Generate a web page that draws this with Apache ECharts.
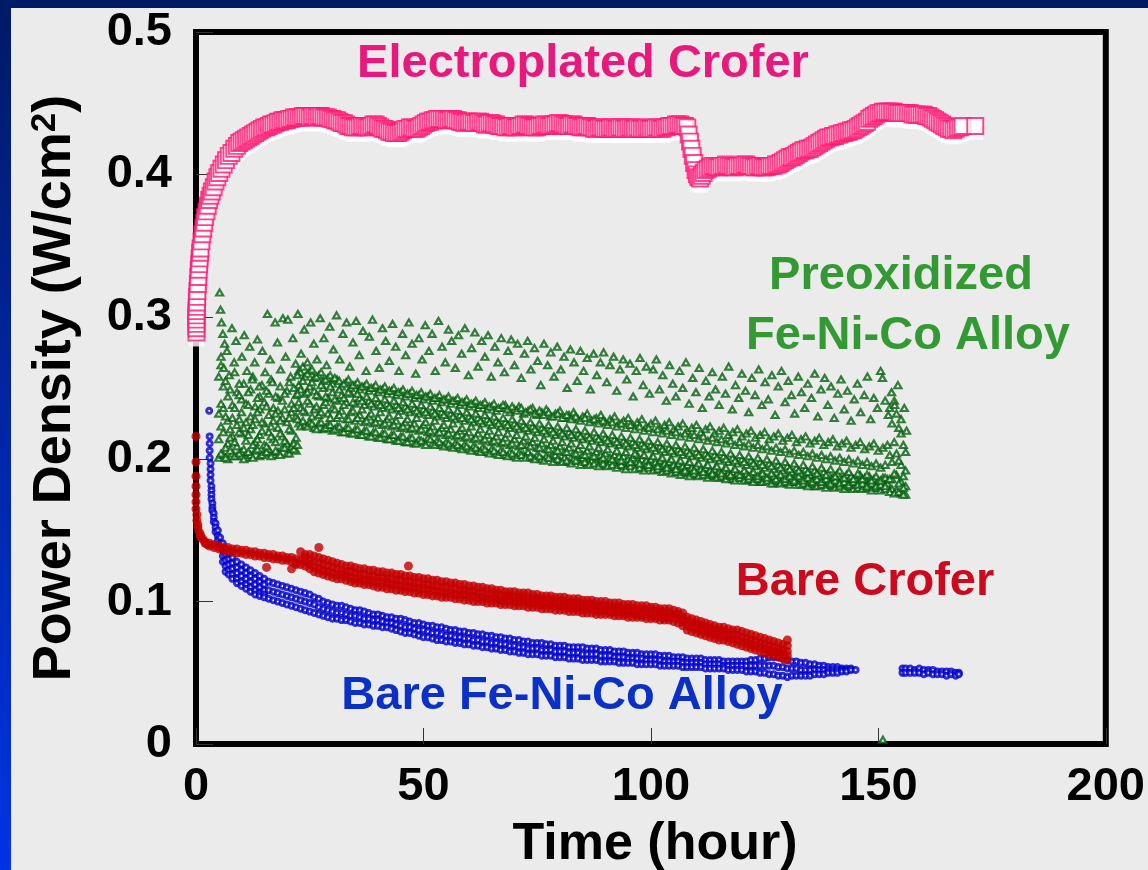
<!DOCTYPE html>
<html>
<head>
<meta charset="utf-8">
<script src="https://cdn.jsdelivr.net/npm/echarts@6/dist/echarts.min.js"></script>
<style>
html,body{margin:0;padding:0;background:#ebebeb;}
#chart{width:1148px;height:870px;}
</style>
</head>
<body>
<div id="chart"></div>
<script>
// ---------- tick labels ----------
const xTicks = [0, 50, 100, 150, 200];
const yTicks = [0, 0.1, 0.2, 0.3, 0.4, 0.5];

// ---------- series labels ----------
const seriesNames = ['Electroplated Crofer', 'Preoxidized Fe-Ni-Co Alloy', 'Bare Crofer', 'Bare Fe-Ni-Co Alloy'];

// ---------- Electroplated Crofer : [hour, W/cm2] ----------
const electroplated = [
[0.1,.289],[0.1,.292],[0.1,.295],[0.1,.298],[0.1,.301],[0.1,.304],[0.15,.307],[0.2,.31],[0.25,.314],[0.3,.318],
[0.4,.323],[0.5,.328],[0.6,.333],[0.7,.337],[0.8,.341],[0.9,.345],[1.0,.348],[1.2,.353],[1.4,.358],[1.6,.362],
[1.8,.366],[2.0,.37],[2.3,.374],[2.6,.378],[2.9,.382],[3.2,.385],[3.5,.388],[3.9,.391],[4.3,.395],[4.7,.398],
[5.1,.401],[5.6,.404],[6.1,.407],[6.6,.41],[7.2,.413],[7.8,.415],[8.4,.418],[9,.42],[9.5,.422],[10,.423],
[10.5,.424],[11,.425],[11.5,.426],[12,.427],[12.5,.428],[13,.429],[13.5,.430],[14,.431],[14.5,.432],[15,.433],
[15.5,.433],[16,.434],[16.5,.435],[17,.435],[17.5,.436],[18,.437],[18.5,.437],[19,.438],[19.5,.438],[20,.438],
[20.5,.439],[21,.439],[21.5,.44],[22,.44],[22.5,.44],[23,.44],[23.5,.441],[24,.441],[24.5,.441],[25,.440],
[25.5,.441],[26,.441],[26.5,.440],[27,.441],[27.5,.441],[28,.440],[28.5,.440],[29,.440],[29.5,.439],[30,.439],
[30.5,.438],[31,.438],[31.5,.437],[32,.436],[32.5,.436],[33,.435],[33.5,.434],[34,.434],[34.5,.433],[35,.433],
[35.5,.433],[36,.434],[36.5,.434],[37,.434],[37.5,.433],[38,.433],[38.5,.434],[39,.435],[39.5,.435],[40,.434],
[40.5,.433],[41,.432],[41.5,.432],[42,.431],[42.5,.430],[43,.430],[43.5,.429],[44,.429],[44.5,.429],[45,.430],
[45.5,.431],[46,.432],[46.5,.432],[47,.433],[47.5,.433],[48,.432],[48.5,.432],[49,.433],[49.5,.434],[50,.435],
[50.5,.436],[51,.437],[51.5,.437],[52,.438],[52.5,.438],[53,.439],[53.5,.439],[54,.439],[54.5,.439],[55,.438],
[55.5,.438],[56,.439],[56.5,.439],[57,.438],[57.5,.438],[58,.437],[58.5,.437],[59,.436],[59.5,.437],[60,.437],
[60.5,.437],[61,.436],[61.5,.436],[62,.437],[62.5,.437],[63,.436],[63.5,.435],[64,.435],[64.5,.436],[65,.436],
[65.5,.435],[66,.435],[66.5,.434],[67,.434],[67.5,.434],[68,.433],[68.5,.433],[69,.434],[69.5,.434],[70,.433],
[70.5,.433],[71,.434],[71.5,.434],[72,.435],[72.5,.435],[73,.434],[73.5,.434],[74,.433],[74.5,.433],[75,.433],
[75.5,.434],[76,.434],[76.5,.435],[77,.435],[77.5,.434],[78,.434],[78.5,.435],[79,.435],[79.5,.436],[80,.436],
[80.5,.435],[81,.435],[81.5,.434],[82,.434],[82.5,.435],[83,.435],[83.5,.434],[84,.434],[84.5,.433],[85,.433],
[85.5,.434],[86,.434],[86.5,.433],[87,.433],[87.5,.432],[88,.432],[88.5,.433],[89,.433],[89.5,.432],[90,.432],
[90.5,.432],[91,.433],[91.5,.433],[92,.432],[92.5,.432],[93,.433],[93.5,.433],[94,.432],[94.5,.432],[95,.433],
[95.5,.433],[96,.432],[96.5,.432],[97,.433],[97.5,.432],[98,.432],[98.5,.432],[99,.433],[99.5,.432],[100,.432],
[100.5,.432],[101,.433],[101.5,.433],[102,.432],[102.5,.432],[103,.433],[103.5,.433],[104,.434],[104.5,.434],[105,.434],
[105.5,.435],[106,.435],[106.5,.435],[107,.434],[107.5,.434],[108,.433],[108.3,.428],[108.6,.423],[108.9,.418],[109.2,.413],
[109.5,.408],[109.8,.403],[110.1,.400],[110.4,.398],[110.8,.397],[111.2,.399],[111.6,.401],[112,.403],[112.5,.404],[113,.405],
[113.5,.406],[114,.406],[114.5,.405],[115,.405],[115.5,.406],[116,.406],[116.5,.407],[117,.406],[117.5,.406],[118,.405],
[118.5,.405],[119,.406],[119.5,.406],[120,.406],[120.5,.407],[121,.407],[121.5,.406],[122,.406],[122.5,.405],[123,.405],
[123.5,.406],[124,.406],[124.5,.405],[125,.405],[125.5,.405],[126,.406],[126.5,.406],[127,.406],[127.5,.407],[128,.407],
[128.5,.408],[129,.409],[129.5,.410],[130,.411],[130.5,.412],[131,.412],[131.5,.413],[132,.414],[132.5,.415],[133,.416],
[133.5,.417],[134,.417],[134.5,.418],[135,.418],[135.5,.419],[136,.420],[136.5,.421],[137,.422],[137.5,.423],[138,.424],
[138.5,.425],[139,.426],[139.5,.426],[140,.427],[140.5,.427],[141,.428],[141.5,.428],[142,.429],[142.5,.429],[143,.430],
[143.5,.430],[144,.431],[144.5,.431],[145,.432],[145.5,.433],[146,.434],[146.5,.435],[147,.436],[147.5,.437],[148,.439],
[148.5,.440],[149,.441],[149.5,.442],[150,.443],[150.5,.443],[151,.444],[151.5,.444],[152,.444],[152.5,.444],[153,.444],
[153.5,.444],[154,.443],[154.5,.443],[155,.443],[155.5,.443],[156,.443],[156.5,.443],[157,.443],[157.5,.442],[158,.442],
[158.5,.442],[159,.442],[159.5,.442],[160,.442],[160.5,.441],[161,.441],[161.5,.440],[162,.439],[162.5,.438],[163,.437],
[163.5,.436],[164,.435],[164.5,.434],[165,.433],[165.5,.432],[166,.432],[166.5,.431],[167,.432],[167.5,.433],[168,.433],
[168.5,.434],[171.3,.434]
];

// ---------- Preoxidized Fe-Ni-Co Alloy : rows [hour, values...] (dense band, whole hours) ----------
const preoxBandA = [
[5,.201,.214,.232,.258],[6,.203,.219,.236,.251],[7,.200,.211,.227,.244],[8,.204,.216,.229,.238],[9,.202,.209,.224,.247],
[10,.205,.218,.233,.242],[11,.201,.213,.226,.239],[12,.203,.221,.230,.249],[13,.206,.212,.228,.237],[14,.202,.217,.235,.244],
[15,.204,.210,.225,.240],[16,.207,.219,.231,.246],[17,.203,.214,.227,.236],[18,.205,.222,.234,.243],[19,.208,.216,.229,.241],
[20,.204,.211,.226,.248],[21,.209,.220,.233,.239],[22,.206,.215,.230,.245],[22.6,.225,.240,.252,.262],[23,.223,.236,.249,.261],
[24,.224,.233,.246,.258],[25,.226,.239,.251,.262],[26,.222,.235,.248,.257],[27,.225,.231,.244,.259],[28,.221,.238,.250,.255],
[29,.224,.232,.243,.257],[30,.220,.236,.247,.253],[31,.223,.229,.241,.256],[32,.219,.234,.245,.251],[33,.222,.228,.240,.254],
[34,.218,.233,.246,.250],[35,.221,.227,.239,.252],[36,.217,.231,.243,.249],[37,.220,.226,.238,.251],[38,.216,.230,.241,.248],
[39,.219,.225,.237,.250],[40,.215,.229,.240,.247],[41,.218,.224,.236,.249],[42,.214,.228,.239,.246],[43,.217,.223,.235,.248],
[44,.213,.227,.238,.245],[45,.216,.222,.234,.247],[46,.212,.226,.237,.244],[47,.215,.221,.233,.246],[48,.211,.225,.236,.243],
[49,.214,.220,.232,.245],[50,.212,.224,.235,.242],[51,.215,.219,.231,.244],[52,.211,.223,.234,.241],[53,.213,.218,.230,.243],
[54,.210,.222,.233,.240],[55,.212,.217,.229,.242],[56,.209,.221,.232,.239],[57,.211,.216,.228,.241],[58,.208,.220,.231,.238],
[59,.210,.215,.227,.240],[60,.207,.219,.230,.237],[61,.209,.214,.226,.239],[62,.206,.218,.229,.236],[63,.208,.213,.225,.238],
[64,.205,.217,.228,.235],[65,.207,.212,.224,.237],[66,.204,.216,.227,.234],[67,.206,.211,.223,.236],[68,.203,.215,.226,.238],
[69,.205,.210,.222,.233],[70,.202,.214,.225,.235],[71,.204,.209,.221,.237],[72,.203,.213,.224,.232],[73,.205,.210,.220,.234],
[74,.201,.212,.223,.236],[75,.203,.208,.219,.231],[76,.200,.211,.222,.233],[77,.202,.207,.218,.235],[78,.201,.210,.221,.230],
[79,.203,.206,.217,.232],[80,.199,.209,.220,.234],[81,.201,.205,.216,.229],[82,.198,.208,.219,.231],[83,.200,.204,.215,.233],
[84,.199,.207,.218,.228],[85,.201,.203,.214,.230],[86,.197,.206,.217,.232],[87,.199,.202,.213,.227],[88,.198,.205,.216,.229],
[89,.200,.203,.212,.231],[90,.196,.204,.215,.226],[91,.198,.201,.211,.228],[92,.197,.203,.214,.230],[93,.199,.202,.210,.225],
[94,.195,.202,.213,.227],[95,.197,.200,.209,.229],[96,.196,.201,.212,.224],[97,.198,.203,.208,.226],[98,.194,.200,.211,.228],
[99,.196,.199,.207,.223],[100,.195,.200,.210,.225],[101,.193,.198,.206,.227],[102,.195,.199,.209,.222],[103,.192,.197,.205,.224],
[104,.194,.198,.208,.226],[105,.191,.196,.204,.221],[106,.193,.197,.207,.223],[107,.190,.195,.203,.225],[108,.192,.196,.206,.220],
[109,.191,.194,.202,.222],[110,.189,.195,.205,.224],[111,.191,.193,.201,.219],[112,.190,.194,.204,.221],[113,.188,.192,.200,.223],
[114,.190,.193,.203,.218],[115,.187,.191,.199,.220],[116,.189,.192,.202,.222],[117,.188,.190,.198,.217],[118,.186,.191,.201,.219],
[119,.188,.190,.197,.221],[120,.187,.189,.200,.216],[121,.185,.190,.196,.218],[122,.187,.189,.199,.220],[123,.186,.188,.195,.215],
[124,.184,.189,.198,.217],[125,.186,.188,.194,.219],[126,.185,.187,.197,.214],[127,.183,.188,.193,.216],[128,.185,.187,.196,.218],
[129,.184,.186,.192,.213],[130,.183,.187,.195,.215],[131,.185,.186,.191,.217],[132,.184,.188,.194,.212],[133,.182,.186,.190,.214],
[134,.184,.187,.193,.216],[135,.183,.185,.189,.211],[136,.181,.186,.192,.213],[137,.183,.184,.188,.215],[138,.182,.185,.191,.210],
[139,.184,.186,.190,.212],[140,.181,.183,.187,.214],[141,.183,.185,.190,.209],[142,.182,.184,.186,.211],[143,.180,.183,.189,.213],
[144,.182,.184,.188,.208],[145,.181,.182,.186,.210],[146,.183,.185,.189,.212],[147,.180,.182,.187,.207],[148,.182,.184,.188,.209],
[149,.181,.183,.186,.211],[150,.180,.182,.185,.206],[151,.182,.184,.187,.208],[152,.181,.183,.186,.210],[153,.179,.186,.198,.225],
[154,.178,.189,.204,.232],[155,.176,.184,.196,.218],[156,.175,.181,.192,.205]
];
// Preoxidized: dense band, half hours
const preoxBandB = [
[5.5,.204,.223,.239,.266],[6.5,.201,.208,.230,.255],[7.5,.206,.215,.221,.249],[8.5,.202,.212,.236,.261],[9.5,.204,.219,.228,.245],
[10.5,.200,.207,.222,.253],[11.5,.205,.217,.238,.247],[12.5,.201,.210,.224,.258],[13.5,.207,.214,.233,.243],[14.5,.203,.220,.226,.252],
[15.5,.205,.209,.237,.248],[16.5,.202,.216,.223,.256],[17.5,.206,.212,.232,.244],[18.5,.203,.218,.227,.251],[19.5,.208,.213,.235,.246],
[20.5,.204,.221,.229,.254],[21.5,.207,.211,.236,.250],[22.3,.210,.228,.246,.259],[23.5,.227,.234,.255,.265],[24.5,.223,.241,.247,.260],
[25.5,.225,.230,.254,.263],[26.5,.221,.237,.245,.258],[27.5,.226,.233,.252,.261],[28.5,.222,.240,.244,.256],[29.5,.224,.229,.251,.259],
[30.5,.221,.235,.242,.257],[31.5,.223,.231,.249,.255],[32.5,.219,.238,.243,.253],[33.5,.222,.228,.247,.256],[34.5,.218,.234,.240,.252],
[35.5,.221,.229,.246,.254],[36.5,.217,.235,.241,.251],[37.5,.220,.227,.244,.253],[38.5,.216,.232,.239,.250],[39.5,.219,.226,.243,.252],
[40.5,.215,.233,.238,.249],[41.5,.218,.225,.242,.251],[42.5,.214,.230,.237,.248],[43.5,.217,.224,.241,.250],[44.5,.213,.231,.236,.247],
[45.5,.216,.223,.240,.249],[46.5,.212,.228,.235,.246],[47.5,.215,.222,.239,.248],[48.5,.211,.229,.234,.245],[49.5,.213,.221,.238,.247],
[50.5,.210,.226,.233,.244],[51.5,.214,.220,.237,.246],[52.5,.210,.227,.232,.243],[53.5,.212,.219,.236,.245],[54.5,.209,.224,.231,.242],
[55.5,.211,.218,.235,.244],[56.5,.208,.225,.230,.241],[57.5,.210,.217,.234,.243],[58.5,.207,.222,.229,.240],[59.5,.209,.216,.233,.242],
[60.5,.206,.223,.228,.239],[61.5,.208,.215,.232,.241],[62.5,.205,.221,.227,.238],[63.5,.207,.214,.231,.240],[64.5,.204,.220,.226,.237],
[65.5,.206,.213,.230,.239],[66.5,.203,.219,.225,.236],[67.5,.205,.212,.229,.238],[68.5,.202,.218,.224,.235],[69.5,.204,.211,.228,.237],
[70.5,.201,.217,.223,.234],[71.5,.203,.210,.227,.236],[72.5,.201,.216,.222,.233],[73.5,.202,.209,.226,.235],[74.5,.200,.215,.221,.232],
[75.5,.202,.208,.225,.234],[76.5,.199,.214,.220,.231],[77.5,.201,.207,.224,.233],[78.5,.198,.213,.219,.230],[79.5,.200,.206,.223,.232],
[80.5,.198,.212,.218,.229],[81.5,.199,.205,.222,.231],[82.5,.197,.211,.217,.228],[83.5,.199,.204,.221,.230],[84.5,.196,.210,.216,.227],
[85.5,.198,.203,.220,.229],[86.5,.196,.209,.215,.226],[87.5,.197,.202,.219,.228],[88.5,.195,.208,.214,.225],[89.5,.197,.201,.218,.227],
[90.5,.195,.207,.213,.224],[91.5,.196,.200,.217,.226],[92.5,.194,.206,.212,.223],[93.5,.196,.199,.216,.225],[94.5,.193,.205,.211,.222],
[95.5,.195,.198,.215,.224],[96.5,.193,.204,.210,.221],[97.5,.194,.197,.214,.223],[98.5,.192,.203,.209,.220],[99.5,.194,.196,.213,.222],
[100.5,.192,.202,.208,.219],[101.5,.193,.195,.212,.221],[102.5,.191,.201,.207,.218],[103.5,.192,.194,.211,.220],[104.5,.190,.200,.206,.217],
[105.5,.191,.193,.210,.219],[106.5,.189,.199,.205,.216],[107.5,.191,.192,.209,.218],[108.5,.188,.198,.204,.215],[109.5,.190,.192,.208,.217],
[110.5,.188,.197,.203,.214],[111.5,.189,.191,.207,.216],[112.5,.187,.196,.202,.213],[113.5,.189,.190,.206,.215],[114.5,.187,.195,.201,.212],
[115.5,.188,.190,.205,.214],[116.5,.186,.194,.200,.211],[117.5,.188,.189,.204,.213],[118.5,.185,.193,.199,.210],[119.5,.187,.189,.203,.212],
[120.5,.185,.192,.198,.209],[121.5,.186,.188,.202,.211],[122.5,.184,.191,.197,.208],[123.5,.186,.188,.201,.210],[124.5,.184,.190,.196,.207],
[125.5,.185,.187,.200,.209],[126.5,.183,.190,.195,.206],[127.5,.185,.186,.199,.208],[128.5,.183,.189,.194,.205],[129.5,.184,.186,.198,.207],
[130.5,.182,.188,.193,.204],[131.5,.184,.185,.197,.206],[132.5,.182,.188,.192,.203],[133.5,.183,.185,.196,.205],[134.5,.181,.187,.191,.202],
[135.5,.183,.184,.195,.204],[136.5,.181,.186,.190,.201],[137.5,.182,.184,.194,.203],[138.5,.180,.186,.189,.200],[139.5,.182,.183,.193,.202],
[140.5,.180,.185,.188,.199],[141.5,.181,.183,.192,.201],[142.5,.179,.184,.187,.198],[143.5,.181,.182,.191,.200],[144.5,.179,.184,.186,.197],
[145.5,.180,.182,.190,.199],[146.5,.179,.183,.186,.196],[147.5,.180,.181,.189,.198],[148.5,.178,.183,.185,.195],[149.5,.180,.181,.188,.197],
[150.5,.178,.182,.185,.194],[151.5,.179,.181,.187,.196],[152.5,.177,.186,.203,.236],[153.5,.176,.190,.212,.241],[154.5,.177,.183,.199,.222],
[155.5,.175,.180,.188,.210]
];
// Preoxidized: sparse upper points [hour, W/cm2]
const preoxSparse = [
[5.2,.317],[5.4,.305],[5.6,.296],[5.9,.288],[6.3,.281],[5.5,.272],[6.1,.264],[6.8,.276],[7.3,.259],[7.9,.292],
[8.4,.268],[8.8,.283],[9.5,.253],[10.1,.272],[10.6,.287],[11.2,.262],[11.8,.279],[12.4,.256],[12.9,.268],[13.5,.284],
[13.9,.251],[14.6,.276],[15.2,.261],[15.7,.302],[16.3,.27],[16.8,.254],[17.4,.296],[17.9,.282],[18.6,.263],[19.1,.299],
[19.7,.272],[20.2,.298],[20.8,.258],[21.3,.285],[21.9,.267],[22.4,.302],
[23.1,.274],[23.8,.291],[24.5,.268],[25.2,.296],[25.9,.281],[26.6,.27],[27.3,.299],[28.1,.285],[28.7,.266],[29.4,.293],
[30.2,.277],[30.9,.301],[31.6,.27],[32.3,.288],[33.1,.296],[33.8,.265],[34.5,.282],[35.2,.297],[35.9,.273],[36.7,.29],
[37.4,.262],[38.1,.286],[38.8,.298],[39.6,.276],[40.3,.264],[41,.292],[41.7,.283],[42.5,.269],[43.2,.295],[43.9,.279],
[44.6,.262],[45.4,.288],[46.1,.273],[46.8,.296],[47.5,.281],[48.3,.26],[49,.285],[49.7,.27],[50.4,.294],[51.2,.276],
[51.9,.288],[52.6,.262],[53.3,.297],[54.1,.279],[54.8,.268],[55.5,.291],[56.2,.283],[57,.264],[57.7,.287],[58.4,.274],
[59.1,.292],[59.9,.259],
[60.6,.278],[61.3,.289],[62,.265],[62.8,.283],[63.5,.272],[64.2,.287],[64.9,.258],[65.7,.279],[66.4,.268],[67.1,.285],
[67.8,.261],[68.6,.276],[69.3,.284],[70,.266],[70.7,.281],[71.5,.257],[72.2,.274],[72.9,.283],[73.6,.263],[74.4,.278],
[75.1,.269],[75.8,.252],[76.5,.281],[77.3,.266],[78,.275],[78.7,.258],[79.4,.279],[80.2,.263],[80.9,.272],[81.6,.25],
[82.3,.277],[83.1,.268],[83.8,.255],[84.5,.276],[85.2,.262],[86,.271],[86.7,.249],[87.4,.274],[88.1,.259],[88.9,.268],
[89.6,.275],[90.3,.254],[91,.266],[91.8,.272],[92.5,.248],[93.2,.263],[93.9,.27],[94.7,.256],[95.4,.267],[96.1,.244],
[96.8,.262],[97.6,.271],[98.3,.252],[99,.265],[99.7,.246],
[100.5,.263],[101.2,.27],[101.9,.249],[102.6,.259],[103.4,.241],[104.1,.266],[104.8,.253],[105.5,.244],[106.3,.262],[107,.25],
[107.7,.268],[108.4,.239],[109.2,.257],[109.9,.247],[110.6,.264],[111.3,.236],[112.1,.255],[112.8,.244],[113.5,.261],[114.2,.249],
[115,.238],[115.7,.258],[116.4,.246],[117.1,.265],[117.9,.235],[118.6,.252],[119.3,.243],[120,.26],[120.8,.248],[121.5,.233],
[122.2,.257],[122.9,.245],[123.7,.263],[124.4,.238],[125.1,.254],[125.8,.242],[126.6,.259],[127.3,.231],[128,.251],[128.7,.262],
[129.5,.24],[130.2,.255],[130.9,.245],[131.6,.232],[132.4,.258],[133.1,.247],[133.8,.236],[134.5,.253],[135.3,.243],[136,.26],
[136.7,.23],[137.4,.249],[138.2,.257],[138.9,.238],[139.6,.251],[140.3,.229],[141.1,.246],[141.8,.256],[142.5,.235],[143.2,.248],
[144,.227],[144.7,.242],[145.4,.253],[146.1,.233],[146.9,.245],[147.6,.258],[148.3,.228],[149,.243],[149.8,.236],[150.5,.262],
[150.9,.257],[151.5,.241],[152.2,.231],[152.9,.247],[153.6,.238],[154.3,.252],[155,.228],[155.7,.236],[156.2,.22],
[151,.003]
];

// ---------- Bare Crofer : rows [hour, values...] ----------
const bareCrofer = [
[0,.216,.198,.188,.181,.175,.17,.165],[0.2,.161,.157],[0.4,.154,.152],[0.7,.149],[1,.147,.145],[1.5,.144],[2,.142,.141],
[2.5,.140],[3,.139,.141],[4,.138,.140],[5,.137,.139],[6,.136,.138],[7,.135,.138],[8,.135,.137],[9,.134,.137],[10,.134,.136],
[11,.133,.136],[12,.133,.135],[13,.132,.135],[14,.132,.134],[15,.131,.134],[15.5,.124],[16,.131,.133],[17,.130,.133],[18,.130,.132],
[19,.129,.132],[20,.129,.131],[21,.128,.131,.123],[22,.127,.130,.126],[23,.126,.129,.135],[24,.125,.128,.131,.133],
[25,.123,.126,.129,.133],[26,.121,.124,.128,.132],[27,.120,.123,.127,.131,.138],[28,.119,.122,.126,.130],[29,.118,.121,.125,.129],
[30,.117,.120,.124,.128],[31,.116,.119,.123,.127],[32,.116,.119,.122,.126],[33,.115,.118,.121,.125],[34,.114,.117,.121,.125],
[35,.113,.116,.120,.124],[36,.113,.116,.119,.123],[37,.112,.115,.119,.123],[38,.112,.115,.118,.122],[39,.111,.114,.118,.122],
[40,.110,.114,.117,.121],[41,.110,.113,.117,.121],[42,.109,.113,.116,.120],[43,.109,.112,.116,.120],[44,.108,.112,.115,.119],
[45,.108,.111,.115,.119],[46,.107,.111,.114,.118],[46.7,.125],[47,.107,.110,.114,.118],[48,.106,.110,.113,.117],
[49,.106,.109,.113,.117],[50,.105,.109,.112,.116],[51,.105,.108,.112,.116],[52,.104,.108,.111,.115],[53,.104,.107,.111,.115],
[54,.103,.107,.110,.114],[55,.103,.106,.110,.114],[56,.103,.106,.109,.113],[57,.102,.105,.109,.113],[58,.102,.105,.108,.112],
[59,.101,.105,.108,.112],[60,.101,.104,.107,.111],[61,.100,.104,.107,.111],[62,.100,.103,.106,.110],[63,.100,.103,.106,.110],
[64,.099,.102,.105,.109],[65,.099,.102,.105,.109],[66,.099,.102,.105,.108],[67,.098,.101,.104,.108],[68,.098,.101,.104,.107],
[69,.098,.101,.104,.107],[70,.097,.100,.103,.107],[71,.097,.100,.103,.106],[72,.097,.100,.103,.106],[73,.096,.099,.102,.106],
[74,.096,.099,.102,.105],[75,.096,.099,.102,.105],[76,.095,.098,.101,.104],[77,.095,.098,.101,.104],[78,.095,.098,.101,.104],
[79,.094,.097,.100,.103],[80,.094,.097,.100,.103],[81,.094,.097,.100,.103],[82,.093,.096,.099,.102],[83,.093,.096,.099,.102],
[84,.093,.096,.099,.102],[85,.092,.095,.098,.101],[86,.092,.095,.098,.101],[87,.092,.095,.098,.101],[88,.091,.094,.097,.100],
[89,.091,.094,.097,.100],[90,.091,.094,.097,.100],[91,.091,.093,.096,.099],[92,.090,.093,.096,.099],[93,.090,.093,.096,.099],
[94,.090,.092,.095,.098],[95,.089,.092,.095,.098],[96,.089,.092,.095,.098],[97,.089,.091,.094,.097],[98,.089,.091,.094,.097],
[99,.088,.091,.094,.097],[100,.088,.090,.093,.096],[101,.088,.090,.093,.096],[102,.087,.090,.093,.095],[103,.087,.089,.092,.095],
[104,.087,.089,.092,.095],[105,.086,.089,.091,.094],[106,.085,.088,.091,.093],[107,.083,.086,.089,.092],[108,.080,.083,.086,.089],
[109,.079,.082,.085,.088],[110,.078,.081,.084,.087],[111,.077,.080,.083,.086],[112,.076,.079,.082,.085],[113,.075,.078,.081,.084],
[114,.074,.077,.080,.083],[115,.073,.076,.079,.082],[116,.073,.076,.079,.082],[117,.072,.075,.078,.081],[118,.071,.074,.077,.080],
[119,.070,.073,.076,.080],[120,.069,.072,.075,.079],[121,.068,.071,.074,.078],[122,.067,.070,.073,.077],[123,.066,.069,.072,.076],
[124,.065,.068,.071,.075],[125,.064,.067,.070,.074],[126,.063,.066,.069,.073],[127,.062,.065,.068,.072],[128,.061,.064,.067,.071],
[129,.060,.063,.066,.070],[130,.059,.062,.065,.069,.073]
];

// ---------- Bare Fe-Ni-Co Alloy : rows [hour, values...] ----------
const bareAlloy = [
[2.9,.234],[3.0,.216,.211,.206,.201],[3.2,.197,.193,.189,.185],[3.4,.181,.178,.175,.172],[3.6,.169,.166,.164],[3.9,.162,.159,.156],
[4.3,.155,.152,.149],[4.8,.150,.146,.143],[5.3,.145,.141,.138],[5.9,.141,.136,.132,.128],[6.5,.137,.133,.129,.125,.121],
[7.2,.134,.130,.126,.122,.119],[8,.131,.127,.123,.119,.116],[9,.128,.124,.120,.116,.113],[10,.126,.122,.118,.114,.111],
[11,.124,.120,.116,.112,.109],[12,.122,.118,.114,.110,.107],[13,.120,.116,.112,.108,.105],[14,.118,.114,.110,.106,.104],
[15,.116,.112,.108,.105,.103],[16,.114,.108,.102],[17,.113,.107,.101],[18,.112,.106,.100],[19,.111,.105,.099],[20,.110,.104,.098],
[21,.109,.103,.097],[22,.108,.102,.096],[23,.107,.101,.095],[24,.106,.100,.094],[25,.105,.099,.093],[26,.103,.098,.092],
[27,.102,.096,.091],[28,.100,.095,.090],[29,.099,.094,.089],[30,.098,.093,.088],[31,.097,.092,.088],[32,.097,.092,.087],
[33,.096,.091,.087],[34,.095,.090,.086],[35,.094,.090,.085],[36,.094,.089,.085],[37,.093,.088,.084],[38,.092,.088,.084],
[39,.091,.087,.083],[40,.091,.087,.083],[41,.090,.086,.082],[42,.089,.085,.082],[43,.089,.085,.081],[44,.088,.084,.080],
[45,.088,.083,.079],[46,.087,.082,.078],[47,.086,.082,.078],[48,.085,.081,.077],[49,.085,.080,.076],[50,.084,.080,.075],
[51,.083,.079,.075],[52,.083,.078,.074],[53,.082,.078,.073],[54,.082,.077,.073],[55,.081,.076,.072],[56,.080,.076,.072],
[57,.080,.075,.071],[58,.079,.075,.071],[59,.079,.074,.070],[60,.078,.074,.070],[61,.078,.073,.069],[62,.077,.073,.069],
[63,.077,.072,.068],[64,.076,.072,.068],[65,.076,.071,.067],[66,.075,.071,.067],[67,.075,.070,.066],[68,.074,.070,.066],
[69,.074,.069,.065],[70,.073,.069,.065],[71,.073,.068,.064],[72,.072,.068,.064],[73,.072,.067,.063],[74,.071,.067,.063],
[75,.071,.067,.063],[76,.071,.066,.062],[77,.070,.066,.062],[78,.070,.066,.062],[79,.069,.065,.061],[80,.069,.065,.061],
[81,.069,.065,.061],[82,.068,.064,.060],[83,.068,.064,.060],[84,.068,.064,.060],[85,.068,.063,.059],[86,.067,.063,.059],
[87,.067,.063,.059],[88,.067,.063,.059],[89,.066,.062,.058],[90,.066,.062,.058],[91,.066,.062,.058],[92,.065,.061,.058],
[93,.065,.061,.057],[94,.065,.061,.057],[95,.064,.060,.057],[96,.064,.060,.057],[97,.064,.060,.056],[98,.063,.060,.056],
[99,.063,.059,.056],[100,.063,.059,.056],[101,.063,.059,.056],[102,.062,.059,.055],[103,.062,.058,.055],[104,.062,.058,.055],
[105,.061,.058,.055],[106,.061,.058,.055],[107,.061,.057,.054],[108,.060,.057,.054],[109,.060,.057,.054],[110,.060,.057,.054],
[111,.060,.057,.054],[112,.059,.056,.053],[113,.059,.056,.053],[114,.059,.056,.053],[115,.059,.056,.053],[116,.058,.055,.053],
[117,.058,.055,.052],[118,.058,.055,.052],[119,.058,.055,.052],[120,.058,.055,.052],[121,.058,.055,.051],[122,.059,.055,.051],
[123,.059,.055,.051],[124,.060,.055,.050],[125,.060,.055,.050],[126,.061,.055,.049],[127,.061,.055,.049],[128,.061,.054,.048],
[129,.060,.054,.048],[130,.059,.053,.047],[131,.058,.053,.048],[132,.058,.053,.048],[133,.057,.052,.048],[134,.057,.052,.048],
[135,.056,.052,.048],[136,.056,.052,.049],[137,.055,.052,.049],[138,.055,.052,.049],[139,.054,.052,.050],[140,.054,.052,.050],
[141,.054,.052,.050],[142,.053,.052,.051],[143,.053,.052,.051],[144,.053,.052],[145,.052],
[155.3,.053,.050],[156,.053,.050],[157,.053,.050],[158,.052,.050],[159,.053,.050],[160,.052,.049],[161,.052,.050],
[162,.052,.049],[163,.051,.049],[164,.051,.049],[165,.051,.048],[166,.051,.049],[167,.050,.048],[167.7,.050,.049]
];

// ---------- build point lists from rows ----------
function rowsToPoints(rows) {
  const out = [];
  rows.forEach(r => { for (let i = 1; i < r.length; i++) out.push([r[0], r[i]]); });
  return out;
}
const preoxPoints = rowsToPoints(preoxBandA).concat(rowsToPoints(preoxBandB)).concat(preoxSparse);
const crofPoints = rowsToPoints(bareCrofer);
const alloyPoints = rowsToPoints(bareAlloy);

const FONT = '"Liberation Sans", Arial, Helvetica, sans-serif';

const chart = echarts.init(document.getElementById('chart'), null, {renderer: 'canvas'});
const option = {
  animation: false,
  backgroundColor: '#ebebeb',
  grid: {
    left: 196, right: 35, top: 32, bottom: 126,
    show: true, borderColor: '#000', borderWidth: 6, backgroundColor: '#ebebeb'
  },
  xAxis: {
    type: 'value', min: xTicks[0], max: xTicks[xTicks.length - 1], interval: 50,
    axisLine: {show: false},
    axisTick: {show: true, inside: true, length: 16, lineStyle: {color: '#333', width: 1}},
    splitLine: {show: false},
    axisLabel: {margin: 20, fontSize: 47, fontWeight: 'bold', color: '#000', fontFamily: FONT,
      formatter: v => String(v)}
  },
  yAxis: {
    type: 'value', min: yTicks[0], max: yTicks[yTicks.length - 1], interval: 0.1,
    axisLine: {show: false},
    axisTick: {show: true, inside: true, length: 17, lineStyle: {color: '#333', width: 1}},
    splitLine: {show: false},
    axisLabel: {margin: 24, fontSize: 47, fontWeight: 'bold', color: '#000', fontFamily: FONT,
      formatter: v => (v === 0 ? '0' : String(Math.round(v * 10) / 10))}
  },
  graphic: [
    {type: 'rect', silent: true, shape: {x: 0, y: 0, width: 1148, height: 8}, style: {fill: '#001a66'}},
    {type: 'rect', silent: true, shape: {x: 0, y: 0, width: 11, height: 870},
      style: {fill: {type: 'linear', x: 0, y: 0, x2: 0, y2: 1,
        colorStops: [{offset: 0, color: '#001a66'}, {offset: 1, color: '#0033e6'}]}}},
    {type: 'text', silent: true, x: 655, y: 845, z: 10,
      style: {text: 'Time (hour)', font: 'bold 52px ' + FONT, fill: '#000',
        align: 'center', verticalAlign: 'middle', textAlign: 'center', textVerticalAlign: 'middle'}},
    {type: 'text', silent: true, x: 55, y: 388, rotation: Math.PI / 2, z: 10,
      style: {text: 'Power Density (W/cm{s|2})', font: 'bold 54px ' + FONT, fill: '#000',
        align: 'center', verticalAlign: 'middle', textAlign: 'center', textVerticalAlign: 'middle',
        rich: {s: {fontSize: 35, fontWeight: 'bold', fontFamily: FONT, fill: '#000', verticalAlign: 'top', lineHeight: 35}}}},
    {type: 'text', silent: true, x: 583, y: 64, z: 10,
      style: {text: seriesNames[0], font: 'bold 47px ' + FONT, fill: '#e8197d',
        align: 'center', verticalAlign: 'middle', textAlign: 'center', textVerticalAlign: 'middle'}},
    {type: 'text', silent: true, x: 901, y: 276, z: 10,
      style: {text: 'Preoxidized', font: 'bold 47px ' + FONT, fill: '#339933',
        align: 'center', verticalAlign: 'middle', textAlign: 'center', textVerticalAlign: 'middle'}},
    {type: 'text', silent: true, x: 908, y: 336, z: 10,
      style: {text: 'Fe-Ni-Co Alloy', font: 'bold 47px ' + FONT, fill: '#339933',
        align: 'center', verticalAlign: 'middle', textAlign: 'center', textVerticalAlign: 'middle'}},
    {type: 'text', silent: true, x: 865, y: 582, z: 10,
      style: {text: seriesNames[2], font: 'bold 47px ' + FONT, fill: '#cc0a1e',
        align: 'center', verticalAlign: 'middle', textAlign: 'center', textVerticalAlign: 'middle'}},
    {type: 'text', silent: true, x: 562, y: 696, z: 10,
      style: {text: seriesNames[3], font: 'bold 47px ' + FONT, fill: '#0a30c8',
        align: 'center', verticalAlign: 'middle', textAlign: 'center', textVerticalAlign: 'middle'}}
  ],
  series: [
    {name: seriesNames[1], type: 'scatter', data: preoxPoints, clip: false, large: false,
      symbol: 'triangle', symbolSize: [7, 6],
      itemStyle: {color: '#ffffff', borderColor: '#02600c', borderWidth: 2.2}},
    // white square interiors hanging below the pink outlines (same data)
    {name: seriesNames[0], type: 'scatter', data: electroplated, clip: false, silent: true,
      symbol: 'rect', symbolSize: [16, 16], symbolOffset: [0, 6],
      itemStyle: {color: '#ffffff', borderWidth: 0}},
    {name: seriesNames[0], type: 'scatter', data: electroplated, clip: false,
      symbol: 'rect', symbolSize: 16,
      itemStyle: {color: '#ffffff', borderColor: '#ff1670', borderWidth: 1.9}},
    {name: seriesNames[3], type: 'scatter', data: alloyPoints, clip: false,
      symbol: 'circle', symbolSize: 5,
      itemStyle: {color: '#ffffff', borderColor: '#0000cc', borderWidth: 3}},
    {name: seriesNames[2], type: 'scatter', data: crofPoints, clip: false,
      symbol: 'circle', symbolSize: 9,
      itemStyle: {color: '#c40000', borderColor: '#c40000', borderWidth: 0}}
  ]
};
chart.setOption(option);
</script>
</body>
</html>
